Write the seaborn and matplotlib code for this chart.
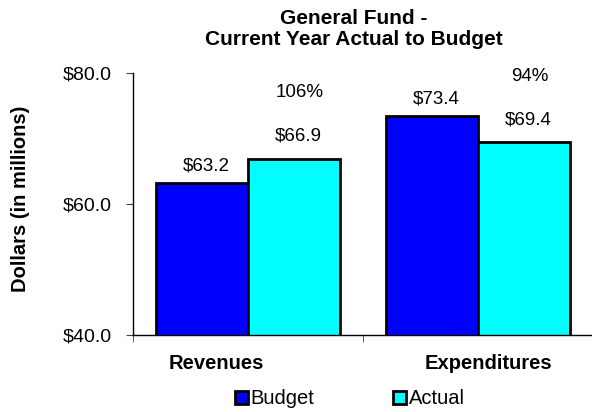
import seaborn as sns
import matplotlib.pyplot as plt
import matplotlib.transforms as mtransforms
import pandas as pd

categories = ['Revenues', 'Expenditures']
series = ['Budget', 'Actual']
budget = [63.2, 73.4]
actual = [66.9, 69.4]
pct_labels = ['106%', '94%']
yticks = [40, 60, 80]

df = pd.DataFrame({
    'Category': categories * 2,
    'Series': ['Budget'] * 2 + ['Actual'] * 2,
    'Value': budget + actual,
})

sns.set_style('white')
plt.rcParams['font.family'] = ['Liberation Sans', 'DejaVu Sans']
plt.rcParams['text.color'] = 'black'
plt.rcParams['axes.labelcolor'] = 'black'
plt.rcParams['xtick.color'] = 'black'
plt.rcParams['ytick.color'] = 'black'

fig = plt.figure(figsize=(5.92, 4.12), dpi=100)
ax = fig.add_axes([133 / 592, 77 / 412, 460 / 592, 262 / 412])

sns.barplot(data=df, x='Category', y='Value', hue='Series', order=categories,
            hue_order=series, palette=['#0000FF', '#00FFFF'], width=0.8,
            edgecolor='black', linewidth=2, saturation=1, ax=ax)

ax.set_ylim(40, 80)
ax.set_xlim(-0.5, 1.5)
ax.set_yticks(yticks)
ax.set_yticklabels(['$%.1f' % v for v in yticks], fontsize=14)
ax.set_ylabel('Dollars (in millions)', fontsize=14.5, fontweight='bold')
ax.yaxis.set_label_coords(-0.225, 0.52)
ax.set_xlabel('')

sns.despine(ax=ax, top=True, right=True)
ax.spines['left'].set_color('black')
ax.spines['bottom'].set_color('black')
ax.spines['left'].set_linewidth(1)
ax.spines['bottom'].set_linewidth(1)
ax.tick_params(axis='y', which='major', left=True, length=5, color='#444444', pad=10)
ax.set_xticks([-0.5, 0.5, 1.5], minor=True)
ax.tick_params(axis='x', which='minor', bottom=True, length=5, color='#444444')
ax.tick_params(axis='x', which='major', bottom=False, pad=10)
ax.set_xticks(range(len(categories)))
ax.set_xticklabels(categories, fontsize=14.5, fontweight='bold')
shifts = [-32, 10]
for lab, dx in zip(ax.get_xticklabels(), shifts):
    lab.set_transform(lab.get_transform() + mtransforms.ScaledTranslation(dx / 100, 0, fig.dpi_scale_trans))

# value labels
pads = {'Budget': 12.5, 'Actual': 16.5}
for cont, name in zip(ax.containers, series):
    for b in cont:
        h = b.get_height()
        ax.annotate('$%.1f' % h, xy=(b.get_x() + b.get_width() / 2, h),
                    xytext=(3, pads[name]), textcoords='offset points',
                    ha='center', va='center', fontsize=13.5, annotation_clip=False)

# percentages above actual bars
for i, (v, p) in enumerate(zip(actual, pct_labels)):
    ax.annotate(p, xy=(i + 0.2, v), xytext=(4, 47.5), textcoords='offset points',
                ha='center', va='center', fontsize=13.5, annotation_clip=False)

fig.text(354 / 592, 1 - 29 / 412, 'General Fund -\nCurrent Year Actual to Budget',
         ha='center', va='center', fontsize=15, fontweight='bold', linespacing=1.1)

handles, labels = ax.get_legend_handles_labels()
ax.legend(handles, labels, loc='center', bbox_to_anchor=(350 / 592, 13 / 412),
          bbox_transform=fig.transFigure, ncol=2, frameon=False, fontsize=14.5,
          handlelength=0.65, handleheight=0.65, handletextpad=0.15, columnspacing=3.9)

fig.savefig('out.png', dpi=100)
